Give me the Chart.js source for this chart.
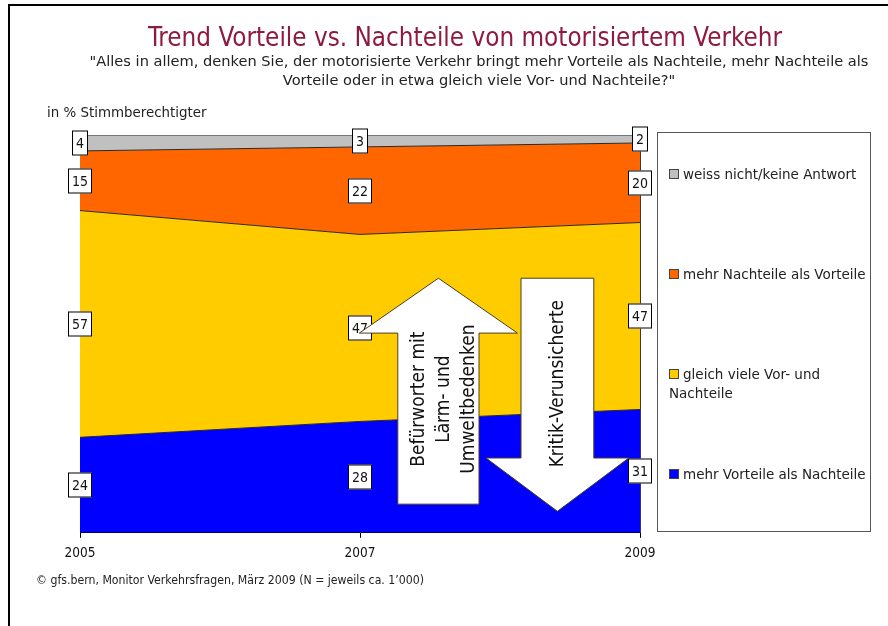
<!DOCTYPE html>
<html>
<head>
<meta charset="utf-8">
<script src="https://cdn.jsdelivr.net/npm/chart.js@4.4.1/dist/chart.umd.min.js"></script>
<style>
  html, body { margin: 0; padding: 0; background: #fff; }
  #wrap { position: relative; width: 888px; height: 626px; overflow: hidden; background: #fff;
          font-family: "DejaVu Sans", sans-serif; }
  #frame { position: absolute; left: 8px; top: 4px; width: 900px; height: 700px; border: 2px solid #000; box-sizing: border-box; }
  canvas { position: absolute; left: 0; top: 0; }
  .t { position: absolute; white-space: nowrap; }
  #title { left: 0; width: 930px; top: 22px; text-align: center; color: #8f1a3f; font-family: "DejaVu Sans Condensed", "DejaVu Sans", sans-serif; font-size: 25.8px; }
  #sub { left: 0; width: 958px; top: 51px; text-align: center; font-size: 14.6px; line-height: 19px; color: #222; }
  #unit { left: 47px; top: 105px; font-size: 13.4px; color: #222; }
  #foot { left: 36px; top: 573px; font-size: 12.2px; color: #222; font-family: "DejaVu Sans Condensed", "DejaVu Sans", sans-serif; }
  #legend { position: absolute; left: 657px; top: 132px; width: 214px; height: 400px; border: 1px solid #555; box-sizing: border-box; background: #fff; }
  .li { position: absolute; left: 11px; font-size: 13.5px; color: #222; line-height: 19px; }
  .mk { display: inline-block; width: 8px; height: 8px; border: 1px solid #444; margin-right: 4px; vertical-align: 0px; }
</style>
</head>
<body>
<div id="wrap">
  <canvas id="c" width="888" height="626"></canvas>
  <div id="frame"></div>
  <div class="t" id="title">Trend Vorteile vs. Nachteile von motorisiertem Verkehr</div>
  <div class="t" id="sub">"Alles in allem, denken Sie, der motorisierte Verkehr bringt mehr Vorteile als Nachteile, mehr Nachteile als<br>Vorteile oder in etwa gleich viele Vor- und Nachteile?"</div>
  <div class="t" id="unit">in % Stimmberechtigter</div>
  <div class="t" id="foot">© gfs.bern, Monitor Verkehrsfragen, März 2009 (N = jeweils ca. 1’000)</div>
  <div id="legend"></div>
</div>
<script>
// ---- data ----
const years = [2005, 2007, 2009];
const mehrVorteile = [24, 28, 31];
const gleichViele = [57, 47, 47];
const mehrNachteile = [15, 22, 20];
const weissNicht = [4, 3, 2];

const seriesNames = ['mehr Vorteile als Nachteile', 'gleich viele Vor- und Nachteile', 'mehr Nachteile als Vorteile', 'weiss nicht/keine Antwort'];
const seriesValues = [mehrVorteile, gleichViele, mehrNachteile, weissNicht];
const seriesColors = ['#0000ff', '#ffcc00', '#ff6600', '#c0c0c0'];

// annotation arrows (in data units: years / percent)
const arrowUp = { cx: 2007.56, shaftHalf: 0.29, headHalf: 0.565, tip: 64, headBase: 50.2, end: 7.2,
  lines: ['Befürworter mit', 'Lärm- und', 'Umweltbedenken'] };
const arrowDown = { cx: 2008.41, shaftHalf: 0.26, headHalf: 0.51, tip: 5.4, headBase: 18.8, end: 64,
  lines: ['Kritik-Verunsicherte'] };

// legend (HTML, top to bottom)
const legendTops = [164, 264, 364, 464];
const legendOrder = [3, 2, 1, 0];
const legendLabels = ['weiss nicht/keine Antwort', 'mehr Nachteile als Vorteile', 'gleich viele Vor- und<br>Nachteile', 'mehr Vorteile als Nachteile'];
const lg = document.getElementById('legend');
legendOrder.forEach((si, i) => {
  const d = document.createElement('div');
  d.className = 'li';
  d.style.top = (legendTops[i] - 132) + 'px';
  d.innerHTML = '<span class="mk" style="background:' + seriesColors[si] + '"></span>' + legendLabels[i];
  lg.appendChild(d);
});

const datasets = seriesValues.map((vals, i) => ({
  label: seriesNames[i],
  data: vals.map((v, k) => ({ x: years[k], y: v })),
  backgroundColor: seriesColors[i],
  borderColor: '#2a2a2a',
  borderWidth: 1,
  pointRadius: 0,
  tension: 0,
  fill: i === 0 ? 'origin' : '-1'
}));

const FONT = '"DejaVu Sans Condensed", "DejaVu Sans", sans-serif';

const labelPlugin = {
  id: 'boxLabels',
  afterDatasetsDraw(chart) {
    const ctx = chart.ctx, xs = chart.scales.x, ys = chart.scales.y;
    ctx.save();
    ctx.font = '14px ' + FONT;
    ctx.textAlign = 'center';
    ctx.textBaseline = 'middle';
    for (let k = 0; k < years.length; k++) {
      let base = 0;
      for (let s = 0; s < seriesValues.length; s++) {
        const v = seriesValues[s][k];
        const px = Math.round(xs.getPixelForValue(years[k]));
        const py = Math.round(ys.getPixelForValue(base + v / 2));
        const txt = String(v);
        const w = Math.round(ctx.measureText(txt).width) + 8;
        const h = 25;
        ctx.fillStyle = '#fff';
        ctx.fillRect(px - w / 2, py - h / 2, w, h);
        ctx.strokeStyle = '#000';
        ctx.lineWidth = 1;
        ctx.strokeRect(px - w / 2 + 0.5, py - h / 2 + 0.5, w - 1, h - 1);
        ctx.fillStyle = '#111';
        ctx.fillText(txt, px, py + 1);
        base += v;
      }
    }
    ctx.restore();
  },
  afterDraw(chart) {
    const ctx = chart.ctx, xs = chart.scales.x, ys = chart.scales.y;
    const X = v => xs.getPixelForValue(v), Y = v => ys.getPixelForValue(v);
    function drawArrow(a) {
      ctx.beginPath();
      ctx.moveTo(X(a.cx), Y(a.tip));
      ctx.lineTo(X(a.cx + a.headHalf), Y(a.headBase));
      ctx.lineTo(X(a.cx + a.shaftHalf), Y(a.headBase));
      ctx.lineTo(X(a.cx + a.shaftHalf), Y(a.end));
      ctx.lineTo(X(a.cx - a.shaftHalf), Y(a.end));
      ctx.lineTo(X(a.cx - a.shaftHalf), Y(a.headBase));
      ctx.lineTo(X(a.cx - a.headHalf), Y(a.headBase));
      ctx.closePath();
      ctx.fillStyle = '#ffffff';
      ctx.fill();
      ctx.strokeStyle = '#4a3f1f';
      ctx.lineWidth = 1;
      ctx.stroke();
    }
    ctx.save();
    drawArrow(arrowUp);
    drawArrow(arrowDown);
    ctx.font = '19px ' + FONT;
    ctx.fillStyle = '#111';
    ctx.textAlign = 'center';
    ctx.textBaseline = 'middle';
    function drawText(a, cy, spacing, dx) {
      const n = a.lines.length;
      ctx.save();
      ctx.translate(X(a.cx) + dx, cy);
      ctx.rotate(-Math.PI / 2);
      a.lines.forEach((l, i) => {
        ctx.fillText(l, 0, (i - (n - 1) / 2) * spacing);
      });
      ctx.restore();
    }
    drawText(arrowUp, Y(33.6), 25, 6);
    drawText(arrowDown, Y(37.5), 25, 1);
    ctx.restore();
  }
};

new Chart(document.getElementById('c'), {
  type: 'line',
  data: { datasets },
  options: {
    responsive: false,
    animation: false,
    layout: { padding: { left: 80, right: 248, top: 135, bottom: 56 } },
    plugins: { legend: { display: false }, tooltip: { enabled: false }, title: { display: false } },
    elements: { line: { borderJoinStyle: 'miter' } },
    scales: {
      x: {
        type: 'linear', min: 2005, max: 2009,
        afterBuildTicks: s => { s.ticks = years.map(v => ({ value: v })); },
        ticks: { callback: v => String(v), font: { size: 13.5, family: FONT }, color: '#111', padding: 8, maxRotation: 0 },
        grid: { display: true, drawOnChartArea: false, tickLength: 5, color: '#000' },
        border: { display: true, color: '#000', width: 1 }
      },
      y: {
        stacked: true, min: 0, max: 100,
        afterFit: s => { s.width = 0; },
        ticks: { display: false },
        grid: { display: false },
        border: { display: true, color: '#000', width: 1 }
      },
      y2: {
        position: 'right', min: 0, max: 100,
        afterFit: s => { s.width = 0; },
        ticks: { display: false },
        grid: { display: false },
        border: { display: true, color: '#3a3a3a', width: 1 }
      }
    }
  },
  plugins: [labelPlugin]
});
</script>
</body>
</html>
